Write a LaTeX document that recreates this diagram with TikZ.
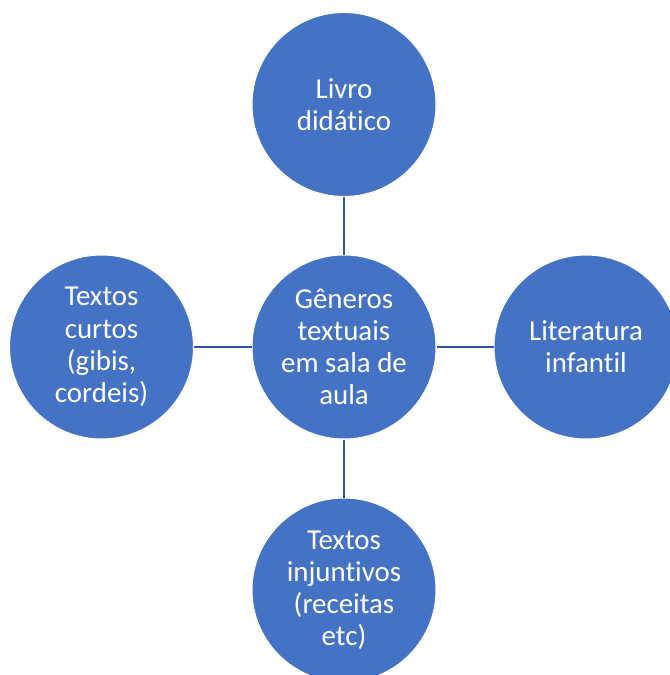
\documentclass[tikz,border=0pt]{standalone}
\usepackage{fontspec}
\setmainfont{Carlito}[Ligatures=NoCommon]
\definecolor{bubble}{HTML}{4472C4}
\definecolor{link}{HTML}{2F5597}
\begin{document}
\begin{tikzpicture}[x=1bp,y=-1bp,
  bubblenode/.style={circle, fill=bubble, draw=white, line width=1bp, minimum size=184bp, inner sep=0pt,
    text=white, align=center, font=\fontsize{29}{32.3}\selectfont},
  linkline/.style={draw=link, line width=2.2bp}]
\useasboundingbox (0,0) rectangle (670,675);
\clip (0,0) rectangle (670,675);
\node[bubblenode] (c) at (344,347) {Gêneros\\textuais\\em sala de\\aula};
\node[bubblenode] (t) at (344,104.5) {Livro\\didático};
\node[bubblenode] (l) at (101.5,347) {Textos\\curtos\\(gibis,\\cordeis)};
\node[bubblenode] (r) at (586,347) {Literatura\\infantil};
\node[bubblenode] (b) at (344,590) {Textos\\injuntivos\\(receitas\\etc)};
\draw[linkline] (c) -- (t);
\draw[linkline] (c) -- (l);
\draw[linkline] (c) -- (r);
\draw[linkline] (c) -- (b);
\end{tikzpicture}
\end{document}
